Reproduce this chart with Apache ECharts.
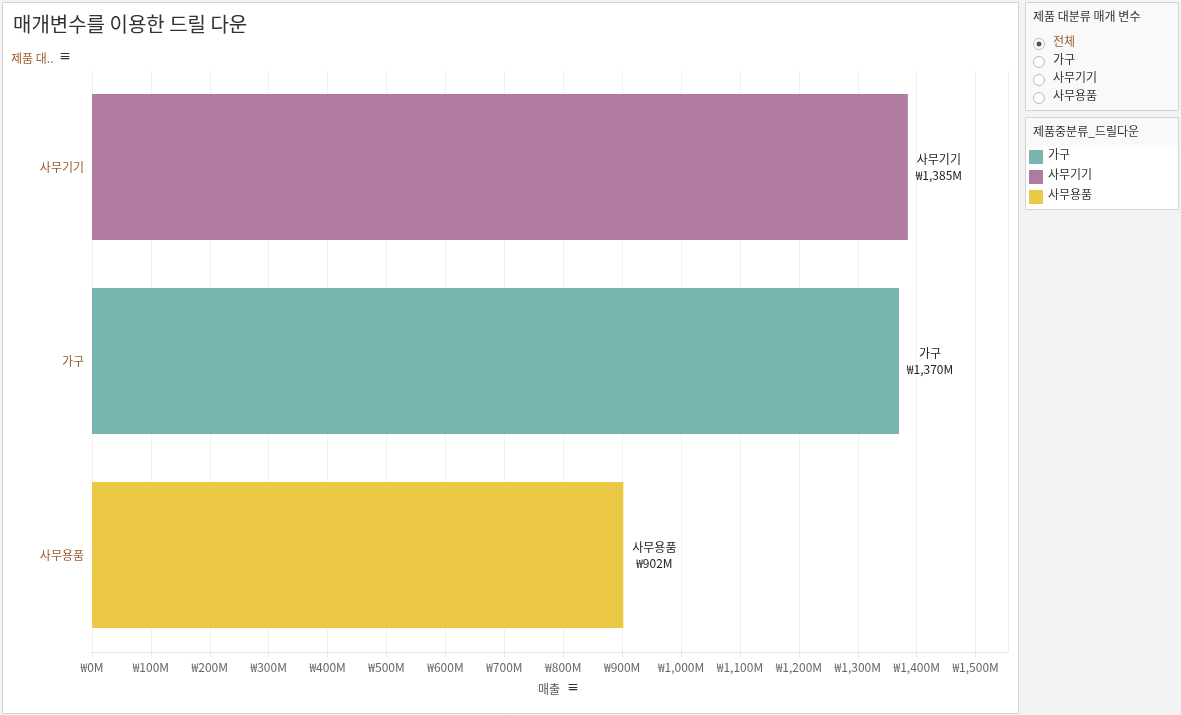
<!DOCTYPE html>
<html><head><meta charset="utf-8">
<script src="https://cdn.jsdelivr.net/npm/echarts@6/dist/echarts.min.js"></script>
<style>html,body{margin:0;padding:0;background:#f3f3f3}#c{width:1181px;height:715px}</style>
</head><body><div id="c"></div>
<script>
const categories = ['사무기기', '가구', '사무용품'];
const sales = [1385, 1370, 902];
const colors = ['#b07aa1', '#79b5b0', '#ebc944'];
const legendItems = ['가구', '사무기기', '사무용품'];
const legendColors = ['#79b5b0', '#b07aa1', '#ebc944'];
const radioItems = ['전체', '가구', '사무기기', '사무용품'];
const fmt = v => '₩' + v.toLocaleString('en-US') + 'M';
const F = '"Noto Sans CJK KR","Noto Sans",sans-serif';
const chart = echarts.init(document.getElementById('c'));
const g = [
  {type:'rect', shape:{x:2.5,y:2.5,width:1016,height:711}, style:{fill:'#fff',stroke:'#d4d4d4'}, z:-10},
  {type:'text', left:13, top:14, style:{text:'매개변수를 이용한 드릴 다운', font:'20px '+F, fill:'#333'}},
  {type:'text', left:11, top:52, style:{text:'제품 대.. ', font:'12px '+F, fill:'#9c5b2e'}},
  {type:'text', left:59, top:50, style:{text:'≡', font:'bold 12px '+F, fill:'#333'}},
  {type:'text', left:538, top:683, style:{text:'매출', font:'12px '+F, fill:'#555'}},
  {type:'text', left:567, top:681, style:{text:'≡', font:'bold 12px '+F, fill:'#333'}},
  {type:'rect', shape:{x:1025.5,y:2.5,width:153,height:108}, style:{fill:'#f9f9f9',stroke:'#d4d4d4'}},
  {type:'text', left:1033, top:10, style:{text:'제품 대분류 매개 변수', font:'12px '+F, fill:'#333'}},
  {type:'rect', shape:{x:1025.5,y:117.5,width:153,height:92}, style:{fill:'#fff',stroke:'#d4d4d4'}},
  {type:'rect', shape:{x:1026,y:118,width:152,height:29}, style:{fill:'#f9f9f9'}},
  {type:'text', left:1033, top:125, style:{text:'제품중분류_드릴다운', font:'12px '+F, fill:'#333'}}
];
radioItems.forEach((t,i)=>{
  const y = 44 + i*18;
  g.push({type:'circle', shape:{cx:1039,cy:y,r:5.5}, style:{fill:'#fff',stroke:'#bbb'}});
  if(i===0) g.push({type:'circle', shape:{cx:1039,cy:y,r:2.5}, style:{fill:'#555'}});
  g.push({type:'text', left:1053, top:y-9, style:{text:t, font:'12px '+F, fill:i===0?'#9c5b2e':'#333'}});
});
legendItems.forEach((t,i)=>{
  const y = 157 + i*20;
  g.push({type:'rect', shape:{x:1029,y:y-7,width:14,height:14}, style:{fill:legendColors[i]}});
  g.push({type:'text', left:1048, top:y-9, style:{text:t, font:'12px '+F, fill:'#333'}});
});
chart.setOption({
  animation:false,
  textStyle:{fontFamily:F},
  graphic:g,
  grid:{left:92,right:173,top:70,bottom:63},
  xAxis:{type:'value',min:0,max:1555,interval:100,
    axisLine:{show:true,lineStyle:{color:'#e6e6e6'}},
    axisTick:{show:true,length:5,lineStyle:{color:'#e6e6e6'}},
    splitLine:{lineStyle:{color:'#f0f0f0'}},
    axisLabel:{formatter:fmt,color:'#666',fontSize:12,showMaxLabel:false,margin:9}},
  yAxis:{type:'category',data:categories,inverse:true,
    axisLine:{show:false},axisTick:{show:false},
    axisLabel:{color:'#9c5b2e',fontSize:12,margin:8}},
  series:[{type:'bar',barWidth:146,
    data:sales.map((v,i)=>({value:v,itemStyle:{color:colors[i]}})),
    label:{show:true,position:'right',distance:4,align:'center',offset:[27,0],color:'#222',fontSize:12,lineHeight:16,
      formatter:p=>categories[p.dataIndex]+'\n'+fmt(p.value)}}]
});
</script></body></html>
